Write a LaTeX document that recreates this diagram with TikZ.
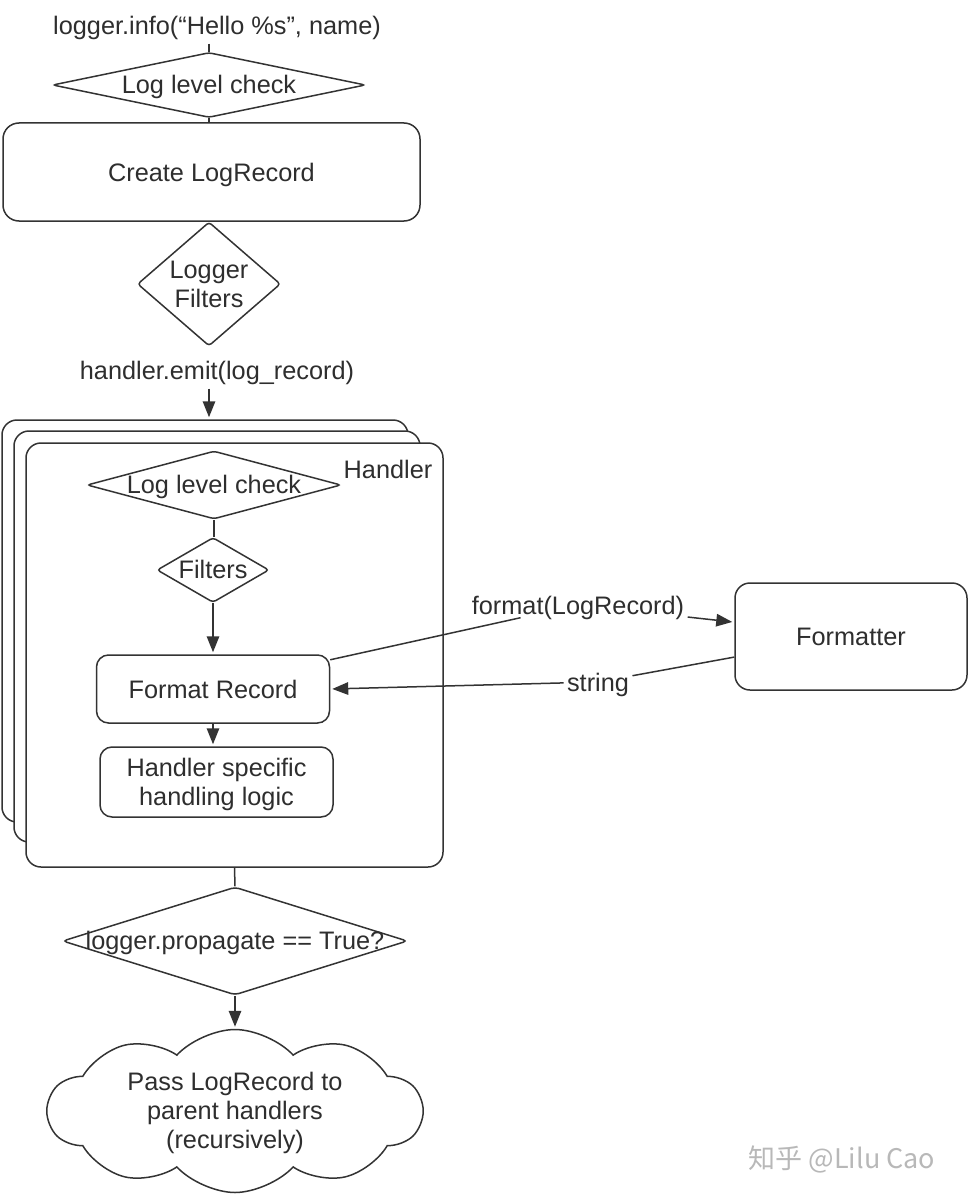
\documentclass[tikz,border=0pt]{standalone}
\usepackage{fontspec}
\setmainfont{Liberation Sans}
\newfontfamily\cjkfont{Noto Sans CJK SC}
\usetikzlibrary{shapes.geometric,shapes.symbols,arrows.meta}
\definecolor{ink}{HTML}{2E2E2E}
\definecolor{edge}{HTML}{333333}
\definecolor{wm}{HTML}{B8B8B8}
% centred lines in a zero-size box, so a shape is sized only by its own keys
\newcommand\stacked[1]{\raisebox{-9.4pt}[0pt][0pt]{\makebox[0pt]{\begin{tabular}{@{}c@{}}#1\end{tabular}}}}

\begin{document}
\begin{tikzpicture}[x=1pt,y=-1pt,
  every node/.style={font=\fontsize{25.3}{29}\selectfont, text=ink, text depth=0pt},
  rbox/.style={draw=edge, line width=1.5pt, rounded corners=#1, fill=white},
  rbox/.default=14pt,
  dia/.style={diamond, draw=edge, line width=1.5pt, inner sep=0pt, aspect=1, fill=white},
  link/.style={draw=edge, line width=1.5pt},
  tipstyle/.tip={Triangle[length=16pt,width=12.5pt]},
  arr/.style={link, -tipstyle, shorten >=2pt}
]
\useasboundingbox (0,0) rectangle (968,1196);

% logger side
\node (info) at (217,25) {logger.info(“Hello \%s”, name)};
\node[dia, minimum width=313pt, minimum height=65pt, rounded corners=3pt] (llc) at (209,85) {\stacked{Log level check}};
\node[rbox=16pt, minimum width=417pt, minimum height=98pt] (create) at (211.5,172) {Create LogRecord};
\node[dia, minimum width=143pt, minimum height=124pt, rounded corners=3pt] (lf) at (209,284) {\stacked{Logger\\Filters}};
\node (emit) at (217,370) {handler.emit(log\_record)};

% stack of handlers
\node[rbox=15pt, minimum width=406pt, minimum height=402pt] (stackA) at (205,621) {};
\node[rbox=15pt, minimum width=406pt, minimum height=411pt] (stackB) at (217,636.5) {};
\node[rbox=15pt, minimum width=417pt, minimum height=424pt] (handler) at (234.5,655) {};
\node (hlabel) at (388,469) {Handler};
\node[dia, minimum width=254pt, minimum height=68pt, rounded corners=3pt] (hllc) at (214,485) {\stacked{Log level check}};
\node[dia, minimum width=112pt, minimum height=65pt, rounded corners=3pt] (filters) at (213,570) {\stacked{Filters}};
\node[rbox=12pt, minimum width=233pt, minimum height=68pt] (fmtrec) at (213,689) {Format Record};
\node[rbox=12pt, minimum width=233pt, minimum height=70pt, align=center] (hspec) at (216.5,782) {Handler specific\\handling logic};

% formatter
\node[rbox=15pt, minimum width=232pt, minimum height=107pt] (formatter) at (851,636.5) {Formatter};
\node (fmtlbl) at (578,605) {format(LogRecord)};
\node (strlbl) at (598,682) {string};

% propagation
\node[dia, minimum width=345pt, minimum height=108pt, rounded corners=4pt] (prop) at (235,941) {\stacked{logger.propagate == True?}};
\node[cloud, draw=edge, line width=1.5pt, cloud puffs=10, cloud puff arc=95, cloud ignores aspect,
      minimum width=374pt, minimum height=163pt, inner sep=0pt, fill=white] (cloud) at (235,1111)
      {\stacked{Pass LogRecord to\\parent handlers\\(recursively)}};

\node[text=wm, font=\cjkfont\fontsize{27}{31}\selectfont] (wmark) at (842,1157) {知乎 @Lilu Cao};

% connectors
\draw[link, shorten <=6pt] (info.south -| llc.north) -- (llc.north);
\draw[link] (llc.south) -- (llc.south |- create.north);
\draw[arr, shorten <=6pt] (emit.south -| lf.south) -- (stackA.north -| lf.south);
\draw[link] (hllc.south) -- (hllc.south |- filters.north);
\draw[arr] (filters.south) -- (fmtrec.north);
\draw[arr] (fmtrec.south) -- (fmtrec.south |- hspec.north);
\draw[link] (fmtrec.14) -- (fmtlbl);
\draw[arr] (fmtlbl) -- (formatter.173);
\draw[link] (formatter.190) -- (strlbl);
\draw[arr] (strlbl) -- (fmtrec.east);
\draw[link] (handler.south) -- (prop.north);
\draw[arr] (prop.south) -- (cloud.north);
\end{tikzpicture}
\end{document}
